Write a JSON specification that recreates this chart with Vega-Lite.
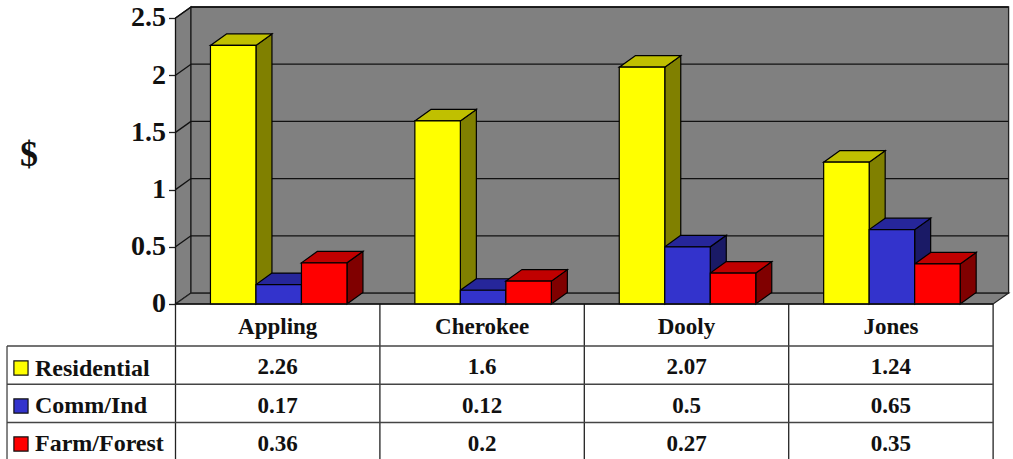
{
  "$schema": "https://vega.github.io/schema/vega-lite/v6.json",
  "width": 1013,
  "height": 459,
  "padding": 0,
  "autosize": "none",
  "background": "white",
  "config": {"view": {"stroke": null}},
  "datasets": {
    "bars": [
      {"county": "Appling", "series": "Residential", "value": 2.26},
      {"county": "Appling", "series": "Comm/Ind", "value": 0.17},
      {"county": "Appling", "series": "Farm/Forest", "value": 0.36},
      {"county": "Cherokee", "series": "Residential", "value": 1.6},
      {"county": "Cherokee", "series": "Comm/Ind", "value": 0.12},
      {"county": "Cherokee", "series": "Farm/Forest", "value": 0.2},
      {"county": "Dooly", "series": "Residential", "value": 2.07},
      {"county": "Dooly", "series": "Comm/Ind", "value": 0.5},
      {"county": "Dooly", "series": "Farm/Forest", "value": 0.27},
      {"county": "Jones", "series": "Residential", "value": 1.24},
      {"county": "Jones", "series": "Comm/Ind", "value": 0.65},
      {"county": "Jones", "series": "Farm/Forest", "value": 0.35}
    ],
    "seriesNames": [
      {"series": "Residential", "row": 0},
      {"series": "Comm/Ind", "row": 1},
      {"series": "Farm/Forest", "row": 2}
    ],
    "counties": [
      {"county": "Appling", "col": 0},
      {"county": "Cherokee", "col": 1},
      {"county": "Dooly", "col": 2},
      {"county": "Jones", "col": 3}
    ],
    "edges": [{"edge": 0}, {"edge": 1}, {"edge": 2}, {"edge": 3}, {"edge": 4}],
    "rowLines": [{"line": 0}, {"line": 1}, {"line": 2}],
    "levels": [{"level": 0.5}, {"level": 1}, {"level": 1.5}, {"level": 2}, {"level": 2.5}],
    "depths": [{"depth": 0}, {"depth": 1}]
  },
  "layer": [
    {
      "data": {"name": "depths"},
      "transform": [
        {"calculate": "datum.depth * 0.0758", "as": "wx"},
        {"calculate": "datum.depth * 0.0962", "as": "wy"},
        {"calculate": "2.5 + datum.wy", "as": "wtop"},
        {"calculate": "4 + datum.wx", "as": "wx2"}
      ],
      "layer": [
        {
          "mark": {"type": "area", "color": "#808080", "stroke": "#111", "strokeWidth": 1.3},
          "encoding": {
            "x": {"field": "wx", "type": "quantitative", "axis": null, "scale": {"domain": [-0.8586, 4.0973], "nice": false, "zero": false}},
            "y": {
              "field": "wy",
              "type": "quantitative",
              "scale": {"domain": [-1.3549, 2.6573], "nice": false, "zero": false},
              "axis": {
                "title": "$",
                "titleAngle": 0,
                "titleFont": "Liberation Serif",
                "titleFontWeight": "bold",
                "titleFontSize": 36,
                "titleColor": "#111",
                "titleX": -147,
                "titleY": 154,
                "titleAlign": "center",
                "titleBaseline": "middle",
                "offset": -175.5,
                "values": [0, 0.5, 1, 1.5, 2, 2.5],
                "format": "",
                "domain": false,
                "grid": false,
                "ticks": true,
                "tickColor": "#222",
                "tickSize": 7,
                "tickWidth": 1.3,
                "labelFont": "Liberation Serif",
                "labelFontWeight": "bold",
                "labelFontSize": 28,
                "labelColor": "#111",
                "labelPadding": 3
              }
            },
            "y2": {"field": "wtop"}
          }
        },
        {
          "mark": {"type": "area", "orient": "horizontal", "color": "#808080", "stroke": "#222", "strokeWidth": 1.2},
          "encoding": {
            "y": {"field": "wy", "type": "quantitative"},
            "x": {"field": "wx", "type": "quantitative"},
            "x2": {"field": "wx2"}
          }
        }
      ]
    },
    {
      "data": {"values": [{}]},
      "mark": {"type": "rect", "color": "#808080", "stroke": "#222", "strokeWidth": 1.3},
      "encoding": {
        "x": {"datum": 0.0758, "type": "quantitative"},
        "x2": {"datum": 4.0758},
        "y": {"datum": 0.0962, "type": "quantitative"},
        "y2": {"datum": 2.5962}
      }
    },
    {
      "data": {"name": "levels"},
      "transform": [
        {"calculate": "datum.level + 0.0962", "as": "backLevel"}
      ],
      "layer": [
        {
          "mark": {"type": "rule", "color": "#111", "strokeWidth": 1.3},
          "encoding": {
            "x": {"datum": 0.0758, "type": "quantitative"},
            "x2": {"datum": 4.0758},
            "y": {"field": "backLevel", "type": "quantitative"}
          }
        },
        {
          "mark": {"type": "rule", "color": "#111", "strokeWidth": 1.3},
          "encoding": {
            "x": {"datum": 0, "type": "quantitative"},
            "x2": {"datum": 0.0758},
            "y": {"field": "level", "type": "quantitative"},
            "y2": {"field": "backLevel"}
          }
        }
      ]
    },
    {
      "data": {"name": "bars"},
      "transform": [
        {"calculate": "indexof(['Appling','Cherokee','Dooly','Jones'], datum.county)", "as": "col"},
        {"calculate": "indexof(['Residential','Comm/Ind','Farm/Forest'], datum.series)", "as": "row"},
        {"calculate": "datum.col + 0.171 + datum.row * 0.2226", "as": "left"},
        {"calculate": "datum.left + 0.2226", "as": "right"},
        {"calculate": "datum.county + datum.series", "as": "barId"}
      ],
      "layer": [
        {
          "transform": [
            {"calculate": "0", "as": "near"},
            {"calculate": "1", "as": "far"},
            {"fold": ["near", "far"], "as": ["corner", "depth"]},
            {"calculate": "datum.right + datum.depth * 0.0783", "as": "sx"},
            {"calculate": "datum.depth * 0.1005", "as": "sy"},
            {"calculate": "datum.value + datum.sy", "as": "sy2"},
            {"calculate": "datum.series + ' side'", "as": "tone"}
          ],
          "mark": {"type": "area", "stroke": "#000", "strokeWidth": 1.2},
          "encoding": {
            "x": {"field": "sx", "type": "quantitative"},
            "y": {"field": "sy", "type": "quantitative"},
            "y2": {"field": "sy2"},
            "detail": {"field": "barId"},
            "color": {
              "field": "tone",
              "type": "nominal",
              "legend": null,
              "scale": {
                "domain": ["Residential", "Comm/Ind", "Farm/Forest", "Residential side", "Comm/Ind side", "Farm/Forest side", "Residential top", "Comm/Ind top", "Farm/Forest top"],
                "range": ["#FFFF00", "#3333CC", "#FF0000", "#808000", "#1A1A66", "#800000", "#C0C000", "#26269A", "#C00000"]
              }
            }
          }
        },
        {
          "transform": [
            {"calculate": "0", "as": "near"},
            {"calculate": "1", "as": "far"},
            {"fold": ["near", "far"], "as": ["corner", "depth"]},
            {"calculate": "datum.left + datum.depth * 0.0783", "as": "tx"},
            {"calculate": "datum.right + datum.depth * 0.0783", "as": "tx2"},
            {"calculate": "datum.value + datum.depth * 0.1005", "as": "ty"},
            {"calculate": "datum.series + ' top'", "as": "tone"}
          ],
          "mark": {"type": "area", "orient": "horizontal", "stroke": "#000", "strokeWidth": 1.2},
          "encoding": {
            "y": {"field": "ty", "type": "quantitative"},
            "x": {"field": "tx", "type": "quantitative"},
            "x2": {"field": "tx2"},
            "detail": {"field": "barId"},
            "color": {"field": "tone", "type": "nominal"}
          }
        },
        {
          "mark": {"type": "rect", "stroke": "#000", "strokeWidth": 1.2},
          "encoding": {
            "x": {"field": "left", "type": "quantitative"},
            "x2": {"field": "right"},
            "y": {"field": "value", "type": "quantitative"},
            "y2": {"datum": 0},
            "color": {"field": "series", "type": "nominal"}
          }
        },
        {
          "transform": [
            {"calculate": "datum.col + 0.5", "as": "tableX"},
            {"calculate": "-(63.5 + 38.5 * datum.row) / 114.4", "as": "tableY"}
          ],
          "mark": {"type": "text", "font": "Liberation Serif", "fontWeight": "bold", "fontSize": 23, "color": "#111", "baseline": "middle", "align": "center"},
          "encoding": {
            "x": {"field": "tableX", "type": "quantitative"},
            "y": {"field": "tableY", "type": "quantitative"},
            "text": {"field": "value", "type": "nominal"}
          }
        }
      ]
    },
    {
      "data": {"name": "edges"},
      "mark": {"type": "rule", "color": "#222", "strokeWidth": 1.3},
      "encoding": {
        "x": {"field": "edge", "type": "quantitative"},
        "y": {"datum": 0, "type": "quantitative"},
        "y2": {"datum": -1.3549}
      }
    },
    {
      "data": {"values": [{}]},
      "layer": [
        {
          "mark": {"type": "rule", "color": "#111", "strokeWidth": 1.5},
          "encoding": {
            "x": {"datum": 0, "type": "quantitative"},
            "x2": {"datum": 4},
            "y": {"datum": 0, "type": "quantitative"}
          }
        },
        {
          "mark": {"type": "rule", "color": "#444", "strokeWidth": 1.3},
          "encoding": {
            "x": {"datum": -0.8243, "type": "quantitative"},
            "y": {"datum": -0.3671, "type": "quantitative"},
            "y2": {"datum": -1.3549}
          }
        }
      ]
    },
    {
      "data": {"name": "rowLines"},
      "transform": [{"calculate": "-(42 + 38.25 * datum.line) / 114.4", "as": "lineY"}],
      "mark": {"type": "rule", "color": "#444", "strokeWidth": 1.3},
      "encoding": {
        "x": {"datum": -0.8243, "type": "quantitative"},
        "x2": {"datum": 4},
        "y": {"field": "lineY", "type": "quantitative"}
      }
    },
    {
      "data": {"name": "counties"},
      "transform": [{"calculate": "datum.col + 0.5", "as": "headX"}],
      "mark": {"type": "text", "font": "Liberation Serif", "fontWeight": "bold", "fontSize": 23, "color": "#111", "baseline": "middle", "align": "center"},
      "encoding": {
        "x": {"field": "headX", "type": "quantitative"},
        "y": {"datum": -0.2, "type": "quantitative"},
        "text": {"field": "county", "type": "nominal"}
      }
    },
    {
      "data": {"name": "seriesNames"},
      "transform": [
        {"calculate": "-(64 + 38 * datum.row) / 114.4", "as": "rowY"},
        {"calculate": "-(65 + 37.5 * datum.row) / 114.4", "as": "textY"}
      ],
      "layer": [
        {
          "mark": {"type": "point", "shape": "square", "filled": true, "size": 200, "stroke": "#111", "strokeWidth": 1.2, "opacity": 1},
          "encoding": {
            "x": {"datum": -0.756, "type": "quantitative"},
            "y": {"field": "rowY", "type": "quantitative"},
            "color": {"field": "series", "type": "nominal"}
          }
        },
        {
          "mark": {"type": "text", "font": "Liberation Serif", "fontWeight": "bold", "fontSize": 24, "color": "#111", "baseline": "middle", "align": "left"},
          "encoding": {
            "x": {"datum": -0.6874, "type": "quantitative"},
            "y": {"field": "textY", "type": "quantitative"},
            "text": {"field": "series", "type": "nominal"}
          }
        }
      ]
    }
  ]
}
